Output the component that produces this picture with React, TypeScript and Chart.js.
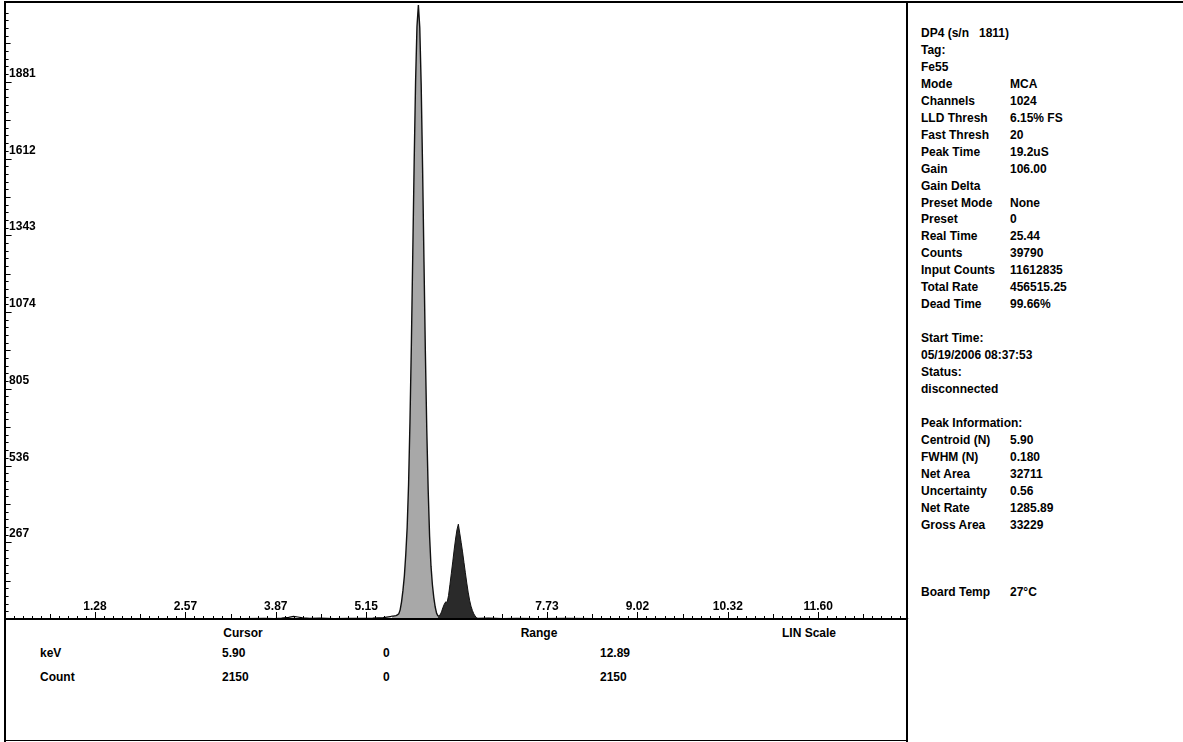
import React, { useEffect, useRef } from 'react';
import { Chart, registerables } from 'chart.js';

Chart.register(...registerables);

// ---- Data ----
const FULL_SCALE_KEV = 12.89;
const FULL_SCALE_COUNT = 2150;

// background below the main peak
const baseLowKeV = [0, 0.5, 1.0, 1.5, 2.0, 2.5, 3.0, 3.4, 3.7, 3.85, 3.95, 4.05, 4.12, 4.18, 4.25, 4.35, 4.5, 4.7, 4.9, 5.1, 5.25, 5.4, 5.5, 5.52];
const baseLowCounts = [0, 0, 0, 0, 0, 0, 0, 1, 2, 1, 3, 6, 9, 7, 4, 2, 3, 1, 2, 2, 3, 5, 8, 10];

// Mn K-alpha peak (5.90 keV)
const mainPeakKeV = [5.52, 5.54, 5.56, 5.58, 5.6, 5.62, 5.64, 5.66, 5.68, 5.7, 5.72, 5.74, 5.76, 5.78, 5.8, 5.82, 5.84, 5.86, 5.88, 5.9, 5.92, 5.94, 5.96, 5.98, 6.0, 6.02, 6.04, 6.06, 6.08, 6.1, 6.12, 6.14, 6.16, 6.18];
const mainPeakCounts = [10, 10, 11, 12, 14, 18, 32, 60, 100, 150, 225, 320, 470, 690, 960, 1280, 1600, 1880, 2075, 2150, 2070, 1870, 1580, 1250, 930, 660, 450, 290, 185, 120, 75, 42, 20, 10];

// Mn K-beta peak (~6.47 keV)
const kbPeakKeV = [6.18, 6.21, 6.23, 6.25, 6.27, 6.29, 6.31, 6.33, 6.35, 6.37, 6.39, 6.41, 6.43, 6.45, 6.47, 6.49, 6.51, 6.53, 6.55, 6.57, 6.59, 6.61, 6.63, 6.65, 6.67, 6.69, 6.71, 6.73, 6.75];
const kbPeakCounts = [10, 14, 25, 40, 52, 60, 58, 82, 120, 160, 200, 242, 280, 312, 332, 300, 268, 235, 198, 162, 126, 94, 66, 45, 30, 18, 10, 5, 2];

// background above the peaks
const baseHighKeV = [6.75, 6.9, 7.1, 7.3, 7.6, 8.0, 8.4, 8.8, 9.2, 9.6, 10.0, 10.5, 11.0, 11.5, 12.0, 12.5, 12.89];
const baseHighCounts = [2, 3, 1, 2, 1, 2, 1, 1, 1, 0, 1, 0, 1, 0, 0, 0, 0];

// axis tick labels
const xTickValues = [1.289, 2.578, 3.867, 5.156, 7.734, 9.023, 10.312, 11.601];
const xTickLabels = ['1.28', '2.57', '3.87', '5.15', '7.73', '9.02', '10.32', '11.60'];
const yTickValues = [268.75, 537.5, 806.25, 1075, 1343.75, 1612.5, 1881.25];
const yTickLabels = ['267', '536', '805', '1074', '1343', '1612', '1881'];

// info panel
const infoLabels = ['DP4 (s/n', 'Tag:', 'Fe55', 'Mode', 'Channels', 'LLD Thresh', 'Fast Thresh', 'Peak Time', 'Gain', 'Gain Delta', 'Preset Mode', 'Preset', 'Real Time', 'Counts', 'Input Counts', 'Total Rate', 'Dead Time', 'Start Time:', '05/19/2006 08:37:53', 'Status:', 'disconnected', 'Peak Information:', 'Centroid (N)', 'FWHM (N)', 'Net Area', 'Uncertainty', 'Net Rate', 'Gross Area', 'Board Temp'];
const infoValues = ['1811)', '', '', 'MCA', '1024', '6.15% FS', '20', '19.2uS', '106.00', '', 'None', '0', '25.44', '39790', '11612835', '456515.25', '99.66%', '', '', '', '', '', '5.90', '0.180', '32711', '0.56', '1285.89', '33229', '27°C'];
const infoRowIndex = [0, 1, 2, 3, 4, 5, 6, 7, 8, 9, 10, 11, 12, 13, 14, 15, 16, 18, 19, 20, 21, 23, 24, 25, 26, 27, 28, 29, 33];

// cursor / range table
const tableHeaders = ['Cursor', 'Range', 'LIN Scale'];
const tableRowLabels = ['keV', 'Count'];
const cursorValues = ['5.90', '2150'];
const cursorValues2 = ['0', '0'];
const rangeValues = ['12.89', '2150'];

const FONT = '"Liberation Sans", Arial, Helvetica, sans-serif';

const toPoints = (xs: number[], ys: number[]) => xs.map((x, i) => ({ x, y: ys[i] }));

export default function App() {
  const ref = useRef<HTMLCanvasElement>(null);

  useEffect(() => {
    const canvas = ref.current;
    if (!canvas) return;

    const tickPlugin = {
      id: 'mcaTicks',
      beforeDatasetsDraw(chart: any) {
        const ctx = chart.ctx as CanvasRenderingContext2D;
        const xs = chart.scales.x;
        const ys = chart.scales.y;
        const area = chart.chartArea;
        ctx.save();
        ctx.strokeStyle = '#000';
        ctx.lineWidth = 1;
        // x ticks (inward, upward)
        const xStep = FULL_SCALE_KEV / 100;
        for (let i = 1; i < 100; i++) {
          const px = Math.round(xs.getPixelForValue(i * xStep)) + 0.5;
          const len = i % 10 === 0 ? 7 : i % 5 === 0 ? 5 : 3;
          ctx.beginPath();
          ctx.moveTo(px, area.bottom);
          ctx.lineTo(px, area.bottom - len);
          ctx.stroke();
        }
        // y ticks (inward, rightward)
        const yStep = FULL_SCALE_COUNT / 80;
        for (let i = 1; i < 80; i++) {
          const py = Math.round(ys.getPixelForValue(i * yStep)) + 0.5;
          const len = i % 10 === 0 ? 7 : i % 5 === 0 ? 6 : 4;
          ctx.beginPath();
          ctx.moveTo(area.left, py);
          ctx.lineTo(area.left + len, py);
          ctx.stroke();
        }
        ctx.fillStyle = '#000';
        ctx.font = 'bold 12px ' + FONT;
        ctx.textBaseline = 'alphabetic';
        ctx.textAlign = 'center';
        xTickValues.forEach((v, i) => {
          ctx.fillText(xTickLabels[i], xs.getPixelForValue(v), area.bottom - 9);
        });
        ctx.textAlign = 'left';
        yTickValues.forEach((v, i) => {
          ctx.fillText(yTickLabels[i], area.left + 4.5, ys.getPixelForValue(v) - 5);
        });
        ctx.restore();
      },
    };

    const chart = new Chart(canvas, {
      type: 'scatter',
      data: {
        datasets: [
          {
            data: toPoints(baseLowKeV, baseLowCounts),
            showLine: true,
            borderColor: '#000',
            borderWidth: 1.2,
            pointRadius: 0,
            fill: false,
          },
          {
            data: toPoints(mainPeakKeV, mainPeakCounts),
            showLine: true,
            borderColor: '#111',
            borderWidth: 1.4,
            backgroundColor: '#a8a8a8',
            pointRadius: 0,
            fill: 'origin',
          },
          {
            data: toPoints(kbPeakKeV, kbPeakCounts),
            showLine: true,
            borderColor: '#111',
            borderWidth: 1,
            backgroundColor: '#2a2a2a',
            pointRadius: 0,
            fill: 'origin',
          },
          {
            data: toPoints(baseHighKeV, baseHighCounts),
            showLine: true,
            borderColor: '#000',
            borderWidth: 1.2,
            pointRadius: 0,
            fill: false,
          },
        ],
      },
      options: {
        animation: false,
        responsive: false,
        maintainAspectRatio: false,
        events: [],
        layout: { padding: { left: 4.6, right: 0.4, top: 5, bottom: 2 } },
        plugins: { legend: { display: false }, tooltip: { enabled: false } },
        scales: {
          x: { type: 'linear', min: 0, max: FULL_SCALE_KEV, display: false },
          y: { type: 'linear', min: 0, max: FULL_SCALE_COUNT, display: false },
        },
      } as any,
      plugins: [tickPlugin],
    });
    return () => chart.destroy();
  }, []);

  const line = (left: number, top: number, width: number, height: number, key: string) => (
    <div key={key} style={{ position: 'absolute', left, top, width, height, background: '#000' }} />
  );

  const textStyle: React.CSSProperties = {
    position: 'absolute',
    fontFamily: FONT,
    fontWeight: 'bold',
    fontSize: 12,
    lineHeight: '14px',
    color: '#000',
    whiteSpace: 'pre',
  };

  return (
    <div style={{ position: 'absolute', left: 0, top: 0, width: 1183, height: 742, background: '#fff', overflow: 'hidden' }}>
      <canvas ref={ref} width={909} height={621} style={{ position: 'absolute', left: 0, top: 0, width: 909, height: 621 }} />
      {line(4, 1, 1179, 2, 'top')}
      {line(4, 1, 2, 741, 'left')}
      {line(906, 1, 2, 741, 'div')}
      {line(4, 618, 904, 2, 'axis')}
      {line(4, 740, 904, 1, 'bottom')}

      {infoLabels.map((lab, i) => {
        const cy = 33 + infoRowIndex[i] * 16.95;
        return (
          <React.Fragment key={'info' + i}>
            <div style={{ ...textStyle, left: 921, top: cy - 7 }}>{lab}</div>
            {infoValues[i] !== '' && (
              <div style={{ ...textStyle, left: i === 0 ? 979 : 1010, top: cy - 7 }}>{infoValues[i]}</div>
            )}
          </React.Fragment>
        );
      })}

      <div style={{ ...textStyle, left: 183, width: 120, textAlign: 'center', top: 626 }}>{tableHeaders[0]}</div>
      <div style={{ ...textStyle, left: 479, width: 120, textAlign: 'center', top: 626 }}>{tableHeaders[1]}</div>
      <div style={{ ...textStyle, left: 749, width: 120, textAlign: 'center', top: 626 }}>{tableHeaders[2]}</div>
      {tableRowLabels.map((lab, i) => {
        const top = (i === 0 ? 653 : 677) - 7;
        return (
          <React.Fragment key={'row' + i}>
            <div style={{ ...textStyle, left: 40, top }}>{lab}</div>
            <div style={{ ...textStyle, left: 222, top }}>{cursorValues[i]}</div>
            <div style={{ ...textStyle, left: 383, top }}>{cursorValues2[i]}</div>
            <div style={{ ...textStyle, left: 600, top }}>{rangeValues[i]}</div>
          </React.Fragment>
        );
      })}
    </div>
  );
}
